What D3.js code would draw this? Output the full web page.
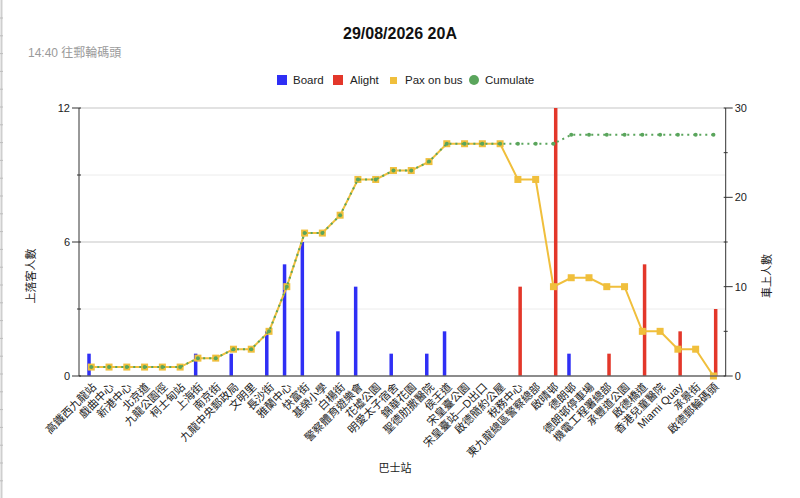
<!DOCTYPE html>
<html lang="zh-Hant">
  <head>
    <meta charset="utf-8" />
    <title>29/08/2026 20A</title>
    <script src="https://cdnjs.cloudflare.com/ajax/libs/d3/7.8.5/d3.min.js"></script>
    <style>
      body {
        margin: 0;
        background: #fff;
        font-family: "Liberation Sans", Arial, "Noto Sans CJK TC", sans-serif;
      }
      svg text {
        font-family: "Liberation Sans", Arial, "Noto Sans CJK TC", sans-serif;
      }
    </style>
  </head>
  <body>
    <div id="chart"></div>
    <script>
      // bus stops along route 20A
      const stops = [
        "高鐵西九龍站", "戲曲中心", "新港中心", "北京道", "九龍公園徑", "柯士甸站",
        "上海街", "南京街", "九龍中央郵政局", "文明里", "長沙街", "雅蘭中心",
        "快富街", "基榮小學", "白楊街", "警察體育遊樂會", "花墟公園", "明愛太子宿舍",
        "錦華花園", "聖德肋撒醫院", "侯王道", "宋皇臺公園", "宋皇臺站—D出口", "啟德簡約公屋",
        "稅務中心", "東九龍總區警察總部", "啟晴邨", "德朗邨", "德朗邨停車場", "機電工程署總部",
        "承豐道公園", "啟德橋道", "香港兒童醫院", "Miami Quay", "承景街", "啟德郵輪碼頭"
      ];

      const board = [1, 0, 0, 0, 0, 0, 1, 0, 1, 0, 2, 5, 6, 0, 2, 4, 0, 1,
                     0, 1, 2, 0, 0, 0, 0, 0, 0, 1, 0, 0, 0, 0, 0, 0, 0, 0];
      const alight = [0, 0, 0, 0, 0, 0, 0, 0, 0, 0, 0, 0, 0, 0, 0, 0, 0, 0,
                      0, 0, 0, 0, 0, 0, 4, 0, 12, 0, 0, 1, 0, 5, 0, 2, 0, 3];
      const paxOnBus = [1, 1, 1, 1, 1, 1, 2, 2, 3, 3, 5, 10, 16, 16, 18, 22, 22, 23,
                        23, 24, 26, 26, 26, 26, 22, 22, 10, 11, 11, 10, 10, 5, 5, 3, 3, 0];
      const cumulate = [1, 1, 1, 1, 1, 1, 2, 2, 3, 3, 5, 10, 16, 16, 18, 22, 22, 23,
                        23, 24, 26, 26, 26, 26, 26, 26, 26, 27, 27, 27, 27, 27, 27, 27, 27, 27];

      const leftTicks = [0, 3, 6, 9, 12];
      const leftLabels = [0, 6, 12];
      const rightTicks = [0, 5, 10, 15, 20, 25, 30];
      const rightLabels = [0, 10, 20, 30];

      const colors = { board: "#2f2ff5", alight: "#e3372a", pax: "#f0bf3c", cum: "#5aa55c" };

      const width = 800, height = 498;
      const plot = { left: 79, right: 725.7, top: 108, bottom: 376 };

      const svg = d3.select("#chart").append("svg")
        .attr("width", width).attr("height", height);

      // left edge strip (sheet border)
      svg.append("line").attr("x1", 1.5).attr("x2", 1.5).attr("y1", 0).attr("y2", height)
        .attr("stroke", "#cfcfcf").attr("stroke-width", 2);
      svg.selectAll(".rowtick").data(d3.range(18, height, 17.8)).enter().append("line")
        .attr("x1", 0).attr("x2", 3).attr("y1", d => d).attr("y2", d => d)
        .attr("stroke", "#bdbdbd");

      const x = d3.scalePoint().domain(stops).range([plot.left, plot.right]).padding(0.69);
      const yL = d3.scaleLinear().domain([0, 12]).range([plot.bottom, plot.top]);
      const yR = d3.scaleLinear().domain([0, 30]).range([plot.bottom, plot.top]);

      // title + subtitle
      svg.append("text").attr("x", 400).attr("y", 39).attr("text-anchor", "middle")
        .attr("font-size", 16).attr("font-weight", "bold").attr("fill", "#111")
        .text("29/08/2026 20A");
      svg.append("text").attr("x", 28).attr("y", 57)
        .attr("font-size", 12).attr("fill", "#9a9a9a").text("14:40 往郵輪碼頭");

      // legend
      const legend = svg.append("g").attr("font-size", 11.5).attr("fill", "#222");
      legend.append("rect").attr("x", 277).attr("y", 75).attr("width", 10).attr("height", 10).attr("fill", colors.board);
      legend.append("text").attr("x", 293).attr("y", 84).text("Board");
      legend.append("rect").attr("x", 333).attr("y", 75).attr("width", 10).attr("height", 10).attr("fill", colors.alight);
      legend.append("text").attr("x", 350).attr("y", 84).text("Alight");
      legend.append("rect").attr("x", 390).attr("y", 77).attr("width", 7).attr("height", 7).attr("fill", colors.pax);
      legend.append("text").attr("x", 405).attr("y", 84).text("Pax on bus");
      legend.append("circle").attr("cx", 474).attr("cy", 80).attr("r", 5).attr("fill", colors.cum);
      legend.append("text").attr("x", 485).attr("y", 84).text("Cumulate");

      // gridlines
      svg.selectAll(".grid").data(leftTicks.filter(d => d > 0)).enter().append("line")
        .attr("x1", plot.left).attr("x2", plot.right)
        .attr("y1", d => yL(d)).attr("y2", d => yL(d))
        .attr("stroke", d => d % 6 === 0 ? "#e2e2e2" : "#ececec")
        .attr("stroke-width", d => d % 6 === 0 ? 2 : 1);

      // bars
      const bw = 3.5;
      svg.selectAll(".board").data(board).enter().append("rect")
        .attr("x", (d, i) => x(stops[i]) - 4).attr("width", bw)
        .attr("y", d => yL(d)).attr("height", d => yL(0) - yL(d))
        .attr("fill", colors.board);
      svg.selectAll(".alight").data(alight).enter().append("rect")
        .attr("x", (d, i) => x(stops[i]) + 0.5).attr("width", bw)
        .attr("y", d => yL(d)).attr("height", d => yL(0) - yL(d))
        .attr("fill", colors.alight);

      // pax on bus line
      const line = d3.line().x((d, i) => x(stops[i])).y(d => yR(d));
      svg.append("path").datum(paxOnBus).attr("d", line)
        .attr("fill", "none").attr("stroke", colors.pax).attr("stroke-width", 2);
      svg.selectAll(".paxmark").data(paxOnBus).enter().append("rect")
        .attr("x", (d, i) => x(stops[i]) - 3.5).attr("y", d => yR(d) - 3.5)
        .attr("width", 7).attr("height", 7).attr("fill", colors.pax);

      // cumulate dotted line
      svg.append("path").datum(cumulate).attr("d", line)
        .attr("fill", "none").attr("stroke", colors.cum).attr("stroke-width", 2)
        .attr("stroke-dasharray", "2,4");
      svg.selectAll(".cummark").data(cumulate).enter().append("circle")
        .attr("cx", (d, i) => x(stops[i])).attr("cy", d => yR(d)).attr("r", 2)
        .attr("fill", colors.cum);

      // axes
      const axisColor = "#333";
      svg.append("line").attr("x1", plot.left).attr("x2", plot.right)
        .attr("y1", plot.bottom).attr("y2", plot.bottom).attr("stroke", "#666").attr("stroke-width", 1.5);
      svg.append("line").attr("x1", plot.left).attr("x2", plot.left)
        .attr("y1", plot.top).attr("y2", plot.bottom).attr("stroke", axisColor);
      svg.append("line").attr("x1", plot.right).attr("x2", plot.right)
        .attr("y1", plot.top).attr("y2", plot.bottom).attr("stroke", axisColor);

      svg.selectAll(".ltick").data(leftTicks).enter().append("line")
        .attr("x1", d => plot.left - (leftLabels.includes(d) ? 7 : 2))
        .attr("x2", plot.left + 2)
        .attr("y1", d => yL(d)).attr("y2", d => yL(d)).attr("stroke", axisColor);
      svg.selectAll(".llab").data(leftLabels).enter().append("text")
        .attr("x", plot.left - 9).attr("y", d => yL(d) + 4).attr("text-anchor", "end")
        .attr("font-size", 11).attr("fill", "#222").text(d => d);

      svg.selectAll(".rtick").data(rightTicks).enter().append("line")
        .attr("x1", plot.right - 2)
        .attr("x2", d => plot.right + (rightLabels.includes(d) ? 7 : 2))
        .attr("y1", d => yR(d)).attr("y2", d => yR(d)).attr("stroke", axisColor);
      svg.selectAll(".rlab").data(rightLabels).enter().append("text")
        .attr("x", plot.right + 9).attr("y", d => yR(d) + 4)
        .attr("font-size", 11).attr("fill", "#222").text(d => d);

      // x labels
      svg.selectAll(".xlab").data(stops).enter().append("text")
        .attr("transform", d => `translate(${x(d) + 3},${plot.bottom + 9}) rotate(-45)`)
        .attr("text-anchor", "end").attr("dy", "0.35em")
        .attr("font-size", 11).attr("fill", "#222").text(d => d);

      // axis titles
      svg.append("text").attr("transform", "translate(35,276) rotate(-90)")
        .attr("text-anchor", "middle").attr("font-size", 11).attr("fill", "#222").text("上落客人數");
      svg.append("text").attr("transform", "translate(771,276) rotate(-90)")
        .attr("text-anchor", "middle").attr("font-size", 11).attr("fill", "#222").text("車上人數");
      svg.append("text").attr("x", 395).attr("y", 472).attr("text-anchor", "middle")
        .attr("font-size", 11).attr("fill", "#222").text("巴士站");
    </script>
  </body>
</html>
